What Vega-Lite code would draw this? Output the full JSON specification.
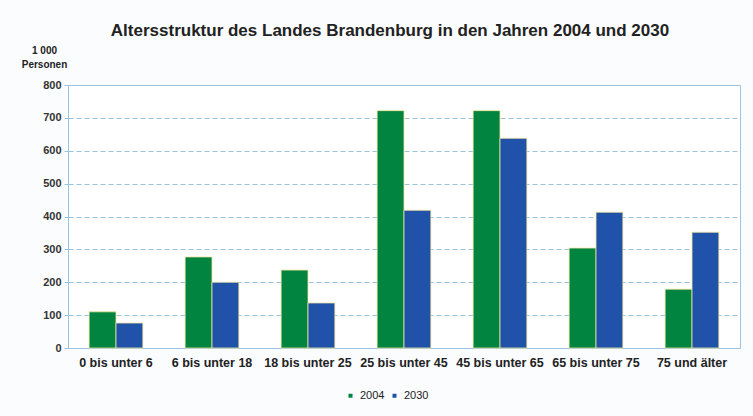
{
  "$schema": "https://vega.github.io/schema/vega-lite/v6.json",
  "autosize": "none",
  "width": 672,
  "height": 263,
  "padding": {"left": 68, "top": 85, "right": 13, "bottom": 68},
  "background": "#fbfcfe",
  "title": {
    "text": "Altersstruktur des Landes Brandenburg in den Jahren 2004 und 2030",
    "font": "Liberation Sans",
    "fontSize": 17,
    "fontWeight": "bold",
    "color": "#222222",
    "anchor": "middle",
    "dx": -14,
    "offset": 5
  },
  "data": {
    "values": [
      {"Alter": "0 bis unter 6", "Jahr": "2004", "Personen": 110},
      {"Alter": "0 bis unter 6", "Jahr": "2030", "Personen": 76},
      {"Alter": "6 bis unter 18", "Jahr": "2004", "Personen": 277},
      {"Alter": "6 bis unter 18", "Jahr": "2030", "Personen": 200},
      {"Alter": "18 bis unter 25", "Jahr": "2004", "Personen": 237},
      {"Alter": "18 bis unter 25", "Jahr": "2030", "Personen": 137},
      {"Alter": "25 bis unter 45", "Jahr": "2004", "Personen": 722},
      {"Alter": "25 bis unter 45", "Jahr": "2030", "Personen": 419},
      {"Alter": "45 bis unter 65", "Jahr": "2004", "Personen": 722},
      {"Alter": "45 bis unter 65", "Jahr": "2030", "Personen": 638},
      {"Alter": "65 bis unter 75", "Jahr": "2004", "Personen": 304},
      {"Alter": "65 bis unter 75", "Jahr": "2030", "Personen": 413},
      {"Alter": "75 und älter", "Jahr": "2004", "Personen": 179},
      {"Alter": "75 und älter", "Jahr": "2030", "Personen": 352}
    ]
  },
  "mark": {"type": "bar", "stroke": "#f3e6a0", "strokeWidth": 0.8},
  "encoding": {
    "x": {
      "field": "Alter",
      "type": "nominal",
      "sort": null,
      "scale": {"paddingInner": 0.44, "paddingOuter": 0.22},
      "axis": {
        "title": null,
        "labelAngle": 0,
        "labelFont": "Liberation Sans",
        "labelFontSize": 12.5,
        "labelFontWeight": "bold",
        "labelColor": "#222222",
        "labelPadding": 8,
        "labelOverlap": false,
        "labelLimit": 0,
        "ticks": false,
        "domain": false
      }
    },
    "xOffset": {"field": "Jahr", "type": "nominal", "scale": {"paddingInner": 0}},
    "y": {
      "field": "Personen",
      "type": "quantitative",
      "scale": {"domain": [0, 800]},
      "axis": {
        "values": [0, 100, 200, 300, 400, 500, 600, 700, 800],
        "title": ["1 000", "Personen"],
        "titleAngle": 0,
        "titleAlign": "center",
        "titleBaseline": "bottom",
        "titleX": -24,
        "titleY": -30,
        "titleFont": "Liberation Sans",
        "titleFontSize": 10,
        "titleFontWeight": "bold",
        "titleColor": "#222222",
        "titleLineHeight": 14,
        "labelFont": "Liberation Sans",
        "labelFontSize": 11,
        "labelFontWeight": "bold",
        "labelColor": "#333333",
        "labelPadding": 3,
        "tickSize": 4,
        "tickColor": "#9cc3dd",
        "domainColor": "#9cc3dd",
        "gridColor": "#9cc3dd",
        "gridDash": [5, 3],
        "gridWidth": 1
      }
    },
    "color": {
      "field": "Jahr",
      "type": "nominal",
      "scale": {"domain": ["2004", "2030"], "range": ["#00843f", "#1f52a8"]},
      "legend": {
        "title": null,
        "orient": "none",
        "legendX": 277,
        "legendY": 305,
        "direction": "horizontal",
        "symbolType": "square",
        "symbolSize": 16,
        "symbolStrokeWidth": 0,
        "labelFont": "Liberation Sans",
        "labelFontSize": 11,
        "labelColor": "#222222",
        "columnPadding": 4
      }
    }
  },
  "config": {
    "view": {"stroke": "#9cc3dd", "fill": "#ffffff"}
  }
}
